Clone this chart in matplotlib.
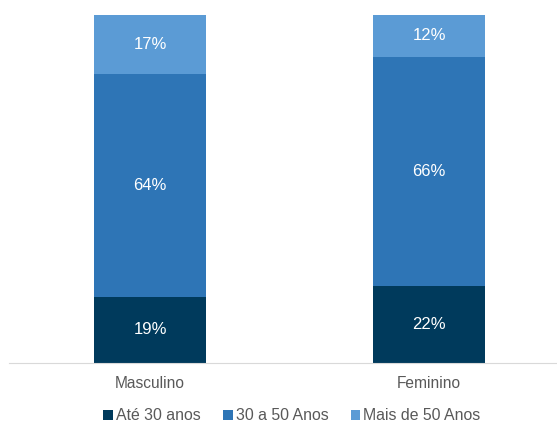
import numpy as np
import matplotlib.pyplot as plt

plt.rcParams['font.family'] = ['Liberation Sans', 'DejaVu Sans']

categorias = ['Masculino', 'Feminino']
series = ['Até 30 anos', '30 a 50 Anos', 'Mais de 50 Anos']
ate_30 = [19, 22]
de_30_a_50 = [64, 66]
mais_50 = [17, 12]
cores = ['#003A5C', '#2E75B6', '#5B9BD5']

fig = plt.figure(figsize=(5.57, 4.24), dpi=100)
ax = fig.add_axes([9/557, 61/424, 548/557, 348/424])

x = np.arange(len(categorias))
base = np.zeros(len(categorias))
for nome, valores, cor in zip(series, [ate_30, de_30_a_50, mais_50], cores):
    valores = np.array(valores, dtype=float)
    ax.bar(x, valores, 0.4, bottom=base, color=cor, label=nome)
    for xi, b, v in zip(x, base, valores):
        ax.text(xi, b + v / 2, f'{v:.0f}%', ha='center', va='center',
                color='white', fontsize=12)
    base += valores

ax.set_xlim(-141/279, 1 + 128/279)
ax.set_ylim(0, 100)
ax.set_yticks([])
ax.set_xticks(x)
ax.set_xticklabels(categorias, fontsize=11.2, color='#595959')
ax.tick_params(axis='x', length=0, pad=9)
for lado in ['top', 'left', 'right']:
    ax.spines[lado].set_visible(False)
ax.spines['bottom'].set_color('#D9D9D9')

fig.legend(loc='center', bbox_to_anchor=(292/557, 8/424), ncol=3, frameon=False,
           fontsize=11.4, handlelength=0.6, handleheight=0.6, handletextpad=0.2,
           columnspacing=1.4, labelcolor='#595959')

fig.savefig('out.png', dpi=100)
